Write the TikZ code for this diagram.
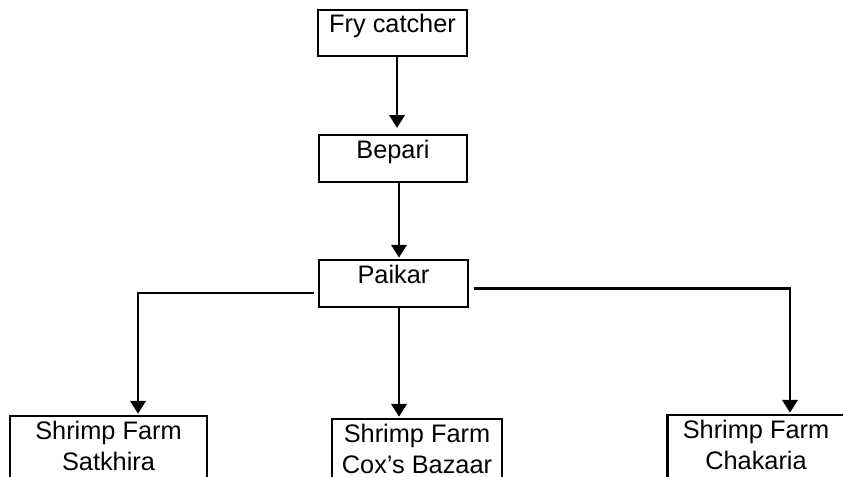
\documentclass[tikz,border=0pt]{standalone}
\usepackage{fontspec}
\setmainfont{Liberation Sans}
\usetikzlibrary{arrows.meta}
\begin{document}
\begin{tikzpicture}[x=0.75pt,y=-0.75pt,
  box/.style={draw,line width=1.7pt,rectangle,inner sep=0pt,
    font=\fontsize{19}{23.25}\selectfont,text height=8pt,text depth=8pt},
  farm/.style={draw,line width=1.7pt,rectangle,inner sep=0pt,align=center,
    anchor=north,minimum height=51pt,font=\fontsize{19}{23.25}\selectfont},
  arr/.style={line width=1.7pt,-{Triangle[length=9.5pt,width=11.5pt]}}]
\useasboundingbox (0,0) rectangle (843,477);
\clip (0,0) rectangle (843,477);

\node[box,minimum width=111.75pt,minimum height=34.5pt] (fry) at (392.5,33) {Fry catcher};
\node[box,minimum width=111pt,minimum height=35.25pt] (bep) at (393,158.5) {Bepari};
\node[box,minimum width=111.75pt,minimum height=35.25pt] (pai) at (393.5,283.5) {Paikar};

\node[farm,minimum width=147.75pt] (sat) at (108.5,415) {Shrimp Farm\\Satkhira\rule[-6pt]{0pt}{0pt}};
\node[farm,minimum width=127.5pt] (cox) at (417,418) {Shrimp Farm\\Cox's Bazaar\rule[-6pt]{0pt}{0pt}};
\node[farm,minimum width=132.75pt] (cha) at (756,414) {Shrimp Farm\\Chakaria\rule[-6pt]{0pt}{0pt}};

\draw[arr,shorten >=4.5pt] ([shift={(4.5,0)}]fry.south) -- ([shift={(4,0)}]bep.north);
\draw[arr,shorten >=1pt] ([shift={(6,0)}]bep.south) -- ([shift={(5.5,0)}]pai.north);
\draw[arr,shorten >=1pt] ([shift={(5.5,0)}]pai.south) -- ([shift={(-18,0)}]cox.north);
\draw[arr,shorten >=1pt] ([shift={(-4,9.5)}]pai.west) -| ([shift={(29.5,0)}]sat.north);
\draw[arr,shorten >=1pt] ([shift={(5,5)}]pai.east) -| ([shift={(34,0)}]cha.north);
\end{tikzpicture}
\end{document}
